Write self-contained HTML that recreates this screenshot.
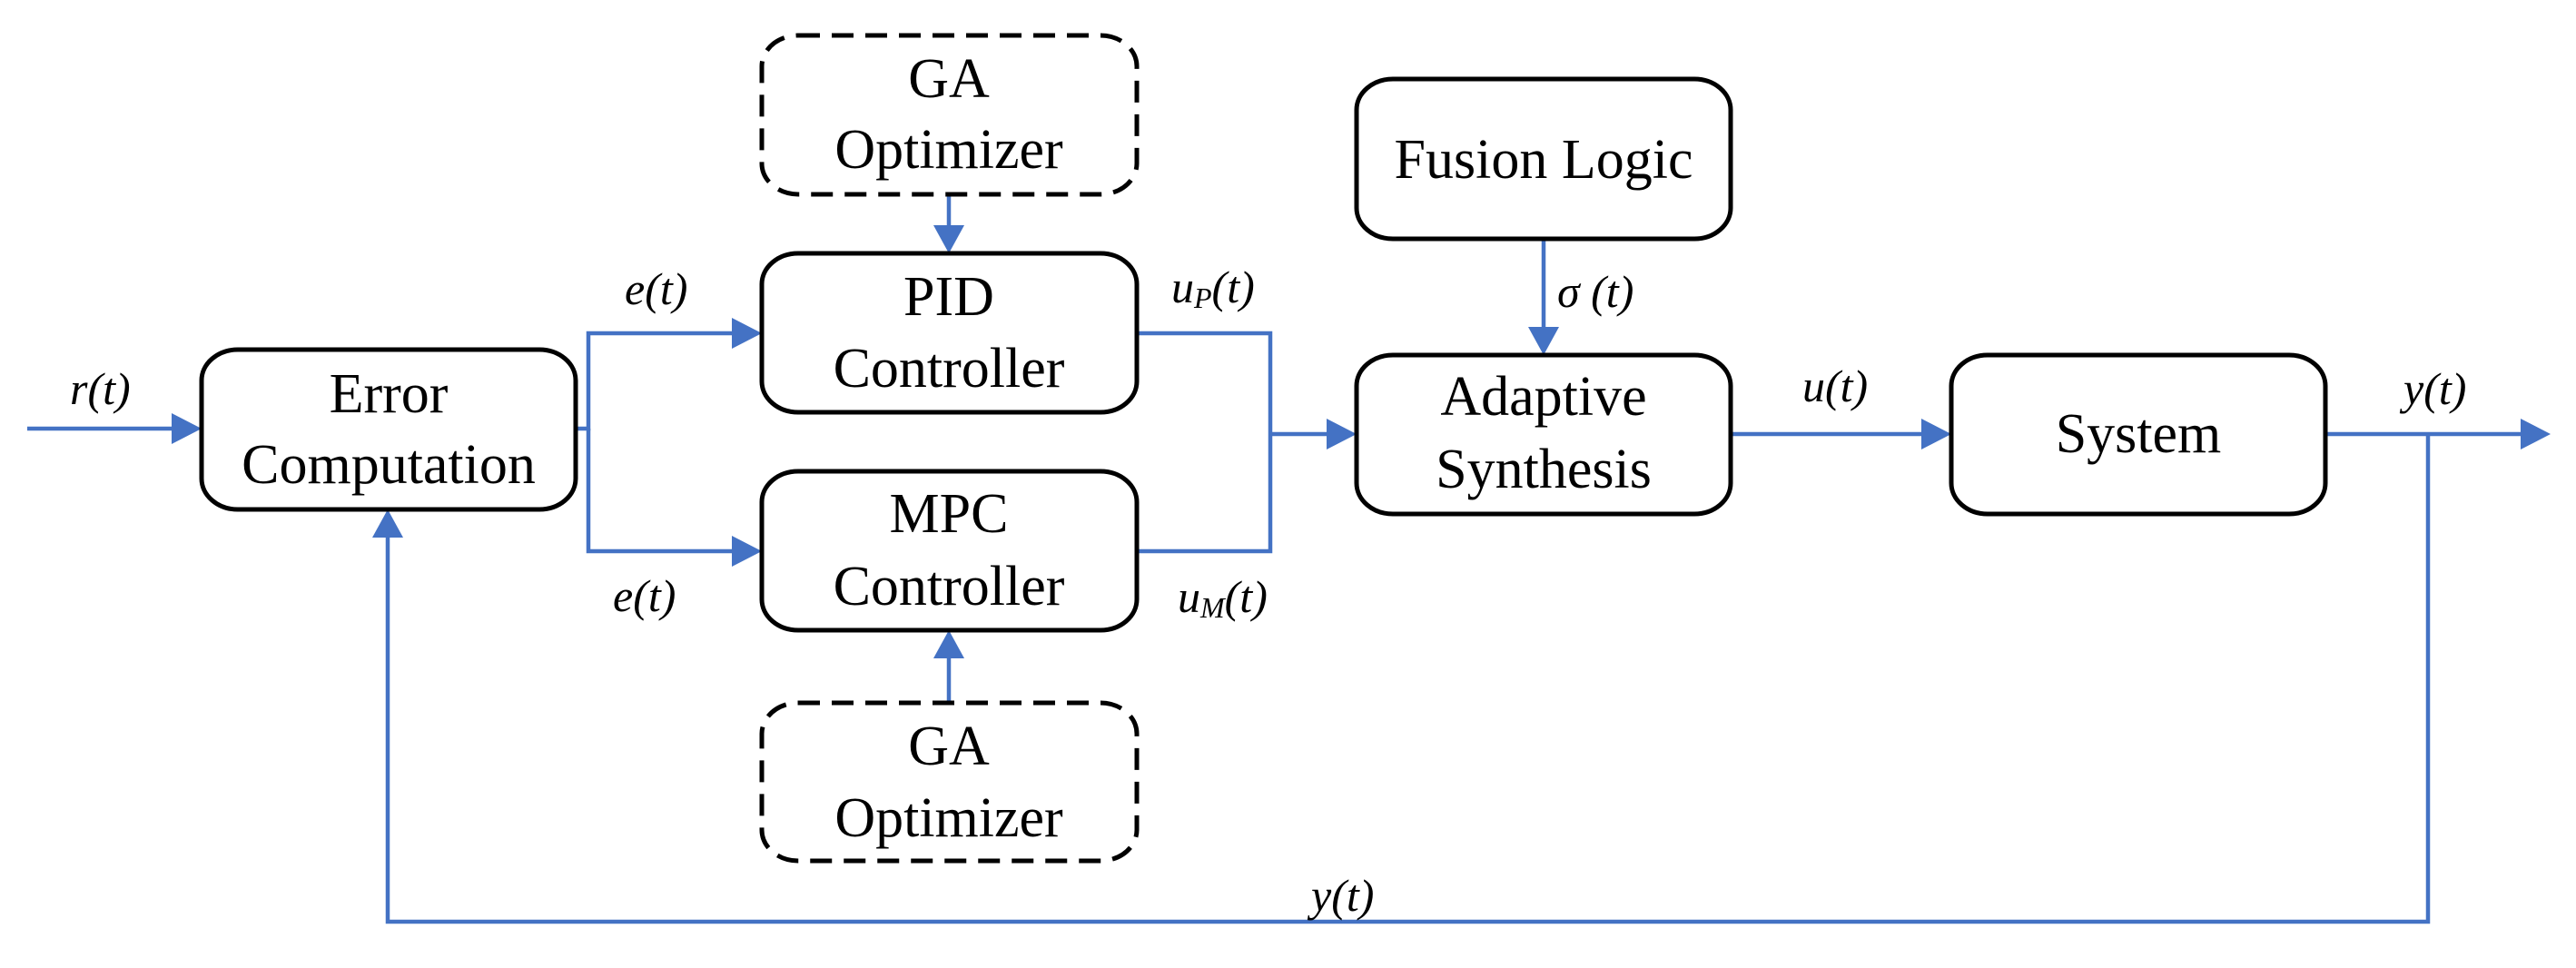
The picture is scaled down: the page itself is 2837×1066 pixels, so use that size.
<!DOCTYPE html>
<html><head><meta charset="utf-8"><style>html,body{margin:0;padding:0;background:#fff;overflow:hidden}svg{display:block}</style></head>
<body>
<svg width="2837" height="1066" viewBox="0 0 2837 1066" xmlns="http://www.w3.org/2000/svg">
<g fill="none" stroke="#4472C4" stroke-width="4.5">
<polyline points="30,472 192,472"/>
<polyline points="634,472 648,472 648,367 808,367"/>
<polyline points="648,472 648,607 808,607"/>
<polyline points="1252,367 1399,367 1399,607 1252,607"/>
<polyline points="1399,478 1463,478"/>
<polyline points="1045,214 1045,250"/>
<polyline points="1045,774 1045,722"/>
<polyline points="1700,263 1700,362"/>
<polyline points="1906,478 2118,478"/>
<polyline points="2561,478 2778,478"/>
<polyline points="2674,478 2674,1015 427,1015 427,590"/>
</g>
<g fill="#4472C4">
<polygon points="222,472 189,455 189,489"/>
<polygon points="839,367 806,350 806,384"/>
<polygon points="839,607 806,590 806,624"/>
<polygon points="1494,478 1461,461 1461,495"/>
<polygon points="1045,279 1028,248 1062,248"/>
<polygon points="1045,694 1028,725 1062,725"/>
<polygon points="1700,391 1683,360 1717,360"/>
<polygon points="2149,478 2116,461 2116,495"/>
<polygon points="2809,478 2776,461 2776,495"/>
<polygon points="427,561 410,592 444,592"/>
</g>
<g fill="none" stroke="#000" stroke-width="5">
<rect x="222" y="385" width="412" height="176" rx="40" ry="34"/>
<rect x="839" y="279" width="413" height="175" rx="40" ry="34"/>
<rect x="839" y="519" width="413" height="175" rx="40" ry="34"/>
<rect x="1494" y="87" width="412" height="176" rx="40" ry="34"/>
<rect x="1494" y="391" width="412" height="175" rx="40" ry="34"/>
<rect x="2149" y="391" width="412" height="175" rx="40" ry="34"/>
<g stroke-dasharray="24,13">
<rect x="839" y="39" width="413" height="175" rx="40" ry="34"/>
<rect x="839" y="774" width="413" height="174" rx="40" ry="34"/>
</g>
</g>
<g font-family="Liberation Serif, serif" font-size="62" text-anchor="middle" fill="#000">
<text x="1045" y="107">GA</text>
<text x="1045" y="185">Optimizer</text>
<text x="1045" y="347">PID</text>
<text x="1045" y="426">Controller</text>
<text x="1045" y="586">MPC</text>
<text x="1045" y="666">Controller</text>
<text x="1045" y="842">GA</text>
<text x="1045" y="921">Optimizer</text>
<text x="428" y="454">Error</text>
<text x="428" y="532">Computation</text>
<text x="1700" y="196">Fusion Logic</text>
<text x="1700" y="457">Adaptive</text>
<text x="1700" y="537">Synthesis</text>
<text x="2355" y="498">System</text>
</g>
<g font-family="Liberation Serif, serif" font-size="50" font-style="italic" fill="#000">
<text x="77" y="445">r(t)</text>
<text x="688" y="335">e(t)</text>
<text x="675" y="673">e(t)</text>
<text x="1290" y="333">u<tspan font-size="32" dy="6">P</tspan><tspan dy="-6">(t)</tspan></text>
<text x="1297" y="674">u<tspan font-size="32" dy="6">M</tspan><tspan dy="-6">(t)</tspan></text>
<text x="1715" y="338">σ (t)</text>
<text x="1985" y="442">u(t)</text>
<text x="2647" y="445">y(t)</text>
<text x="1444" y="1003">y(t)</text>
</g>
</svg>
</body></html>
